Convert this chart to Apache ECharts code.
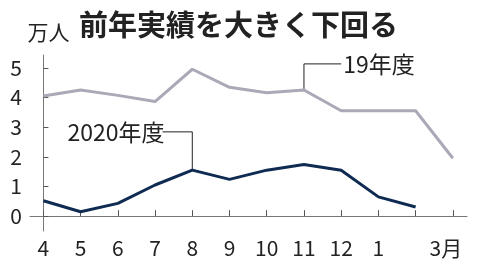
<!DOCTYPE html>
<html>
<head>
<meta charset="utf-8">
<script src="https://cdn.jsdelivr.net/npm/echarts@6/dist/echarts.min.js"></script>
<style>
  html, body { margin: 0; padding: 0; background: #fff; }
  #chart { width: 479px; height: 274px; }
</style>
</head>
<body>
<div id="chart"></div>
<script>
  // 月（4月〜3月）
  const months = ['4', '5', '6', '7', '8', '9', '10', '11', '12', '1', '2', '3月']
  // 表示しないラベル（2月）
  const hiddenLabels = ['2']
  // 19年度（万人）
  const fy2019 = [4.05, 4.25, 4.07, 3.86, 4.95, 4.34, 4.16, 4.25, 3.55, 3.55, 3.55, 1.95]
  // 2020年度（万人）
  const fy2020 = [0.52, 0.15, 0.43, 1.05, 1.55, 1.24, 1.55, 1.74, 1.55, 0.65, 0.31]
  // y軸の目盛り
  const yTicks = [0, 1, 2, 3, 4, 5]
  // 注記の引き出し線（x: 月の位置, y: 万人）
  const lead2019 = [[7, 4.25], [7, 5.13], [8.0, 5.13]]
  const lead2020 = [[4, 1.55], [4, 2.84], [3.2, 2.84]]

  const font = '"Noto Sans CJK JP", sans-serif'
  const xIdx = months.map((m, i) => i)

  const chart = echarts.init(document.getElementById('chart'))
  const options = {
    animation: false,
    textStyle: { fontFamily: font },
    title: {
      text: '前年実績を大きく下回る',
      left: 74,
      top: 5,
      textStyle: { fontFamily: font, fontSize: 29, fontWeight: 'bold', color: '#222' },
    },
    grid: { left: 30, right: 12, top: 55, bottom: 43 },
    xAxis: {
      type: 'value',
      min: -0.36,
      max: 11.38,
      splitLine: { show: false },
      axisLine: { lineStyle: { color: '#777', width: 1 } },
      axisTick: {
        inside: true,
        length: 6,
        customValues: xIdx,
        lineStyle: { color: '#555' },
      },
      axisLabel: {
        customValues: xIdx,
        margin: 7,
        fontSize: 21,
        color: '#222',
        formatter: (v) => {
          const m = months[Math.round(v)]
          if (hiddenLabels.includes(m)) return ''
          return m === '3月' ? '{m|' + m + '}' : m
        },
        rich: { m: { fontSize: 21, color: '#222', padding: [0, 14, 0, 0] } },
      },
    },
    yAxis: {
      type: 'value',
      min: -0.5,
      max: 5.43,
      name: '万人',
      nameLocation: 'end',
      nameGap: 12,
      nameTextStyle: { fontSize: 21, color: '#222', align: 'center', padding: [0, 0, 0, 10] },
      splitLine: { show: false },
      axisLine: { show: true, lineStyle: { color: '#777', width: 1 } },
      axisTick: { show: true, inside: true, length: 5, customValues: yTicks, lineStyle: { color: '#555' } },
      axisLabel: { customValues: yTicks, margin: 8, fontSize: 21, color: '#222' },
    },
    series: [
      {
        name: '19年度',
        type: 'line',
        data: fy2019.map((v, i) => [i, v]),
        symbol: 'none',
        lineStyle: { color: '#a9a9b7', width: 3 },
        z: 3,
      },
      {
        name: '2020年度',
        type: 'line',
        data: fy2020.map((v, i) => [i, v]),
        symbol: 'none',
        lineStyle: { color: '#0f2b52', width: 3 },
        z: 4,
      },
      {
        type: 'line',
        data: lead2019,
        symbol: 'none',
        lineStyle: { color: '#222', width: 1 },
        endLabel: {
          show: true,
          formatter: '19年度',
          fontSize: 23,
          color: '#222',
          distance: 2,
        },
        z: 2,
      },
      {
        type: 'line',
        data: lead2020,
        symbol: 'none',
        lineStyle: { color: '#222', width: 1 },
        endLabel: {
          show: true,
          formatter: '2020年度',
          fontSize: 23,
          color: '#222',
          position: 'left',
          align: 'right',
          distance: 2,
        },
        z: 2,
      },
    ],
  }
  chart.setOption(options)
</script>
</body>
</html>
